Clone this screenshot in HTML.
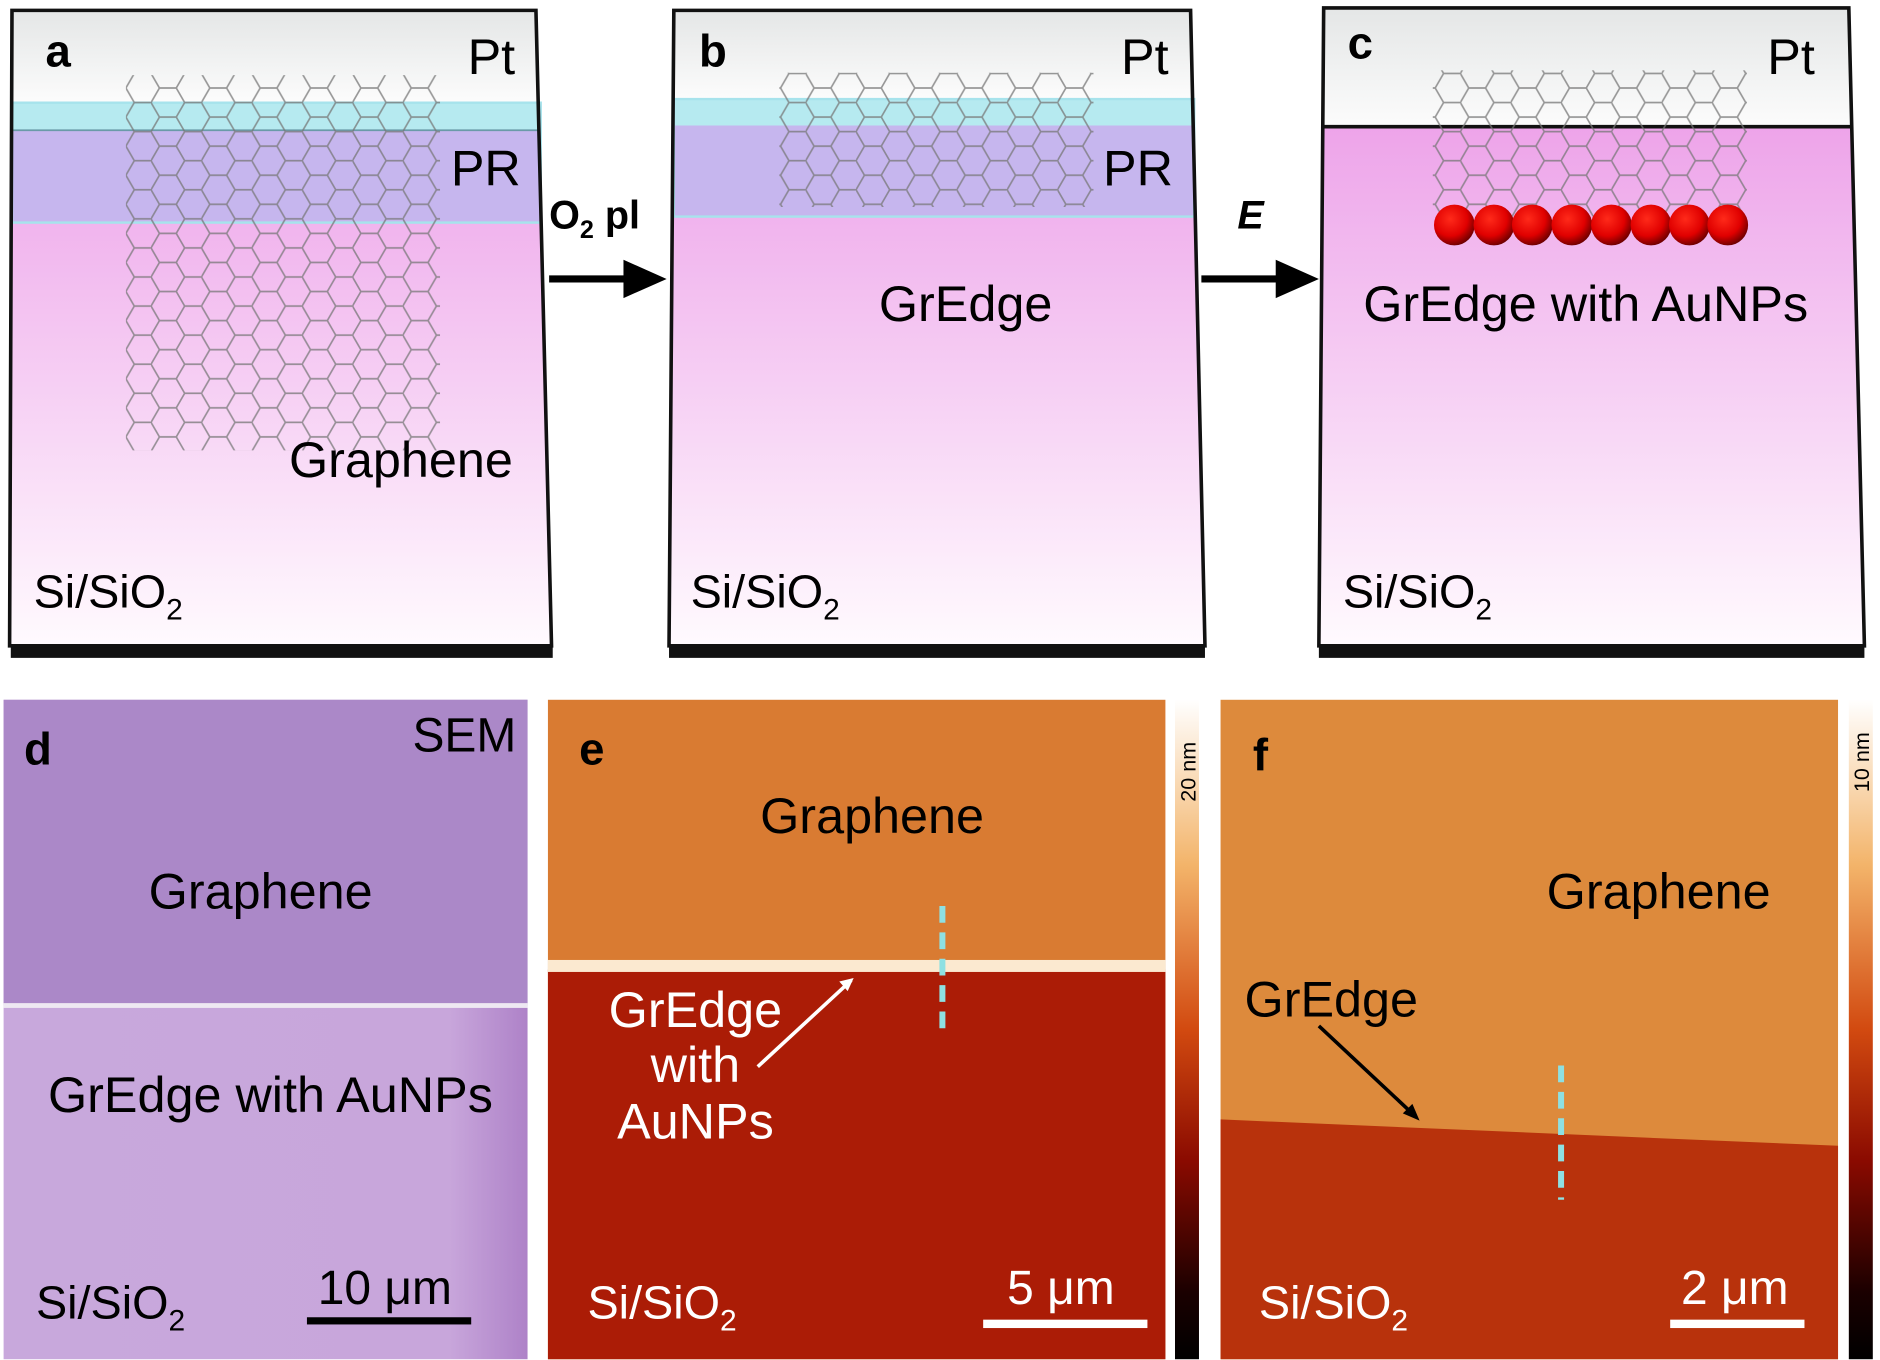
<!DOCTYPE html>
<html><head><meta charset="utf-8"><style>
html,body{margin:0;padding:0;background:#fff;}
svg{display:block;}
text{font-family:"Liberation Sans",sans-serif;}
</style></head><body>
<svg width="1880" height="1360" viewBox="0 0 1568 1133" xmlns="http://www.w3.org/2000/svg">
<defs>
<pattern id="hex" width="42" height="24.25" patternUnits="userSpaceOnUse">
<path d="M0,12.12 L7,0 L21,0 L28,12.12 L21,24.25 L7,24.25 Z M28,12.12 L42,12.12" fill="none" stroke="#777" stroke-width="1.4" opacity="0.75"/>
</pattern>
<linearGradient id="pink" x1="0" y1="0" x2="0" y2="1">
<stop offset="0" stop-color="#e98fe4"/><stop offset="0.35" stop-color="#f1b6ee"/><stop offset="1" stop-color="#fffafe"/>
</linearGradient>
<linearGradient id="ptg" x1="0" y1="0" x2="0" y2="1">
<stop offset="0" stop-color="#e4e6e6"/><stop offset="1" stop-color="#fcfcfc"/>
</linearGradient>
<linearGradient id="cb" x1="0" y1="0" x2="0" y2="1">
<stop offset="0" stop-color="#ffffff"/><stop offset="0.25" stop-color="#f3b46a"/><stop offset="0.5" stop-color="#d24a10"/><stop offset="0.7" stop-color="#8a0a00"/><stop offset="0.9" stop-color="#1a0000"/><stop offset="1" stop-color="#000"/>
</linearGradient>
<radialGradient id="ball" cx="0.4" cy="0.35" r="0.7">
<stop offset="0" stop-color="#ff2a1a"/><stop offset="0.6" stop-color="#e00000"/><stop offset="1" stop-color="#600000"/>
</radialGradient>
<linearGradient id="dgrad" x1="0" y1="0" x2="1" y2="0">
<stop offset="0" stop-color="#c8a8dc"/><stop offset="0.85" stop-color="#c8a6db"/><stop offset="1" stop-color="#ae82c8"/>
</linearGradient>
</defs>

<!-- Panel a -->
<polygon points="9,548 461,548 461,538 9,538" fill="#111"/>
<polygon points="10,8 447,8 460,538 8,538" fill="url(#pink)"/>
<polygon points="10,8 447,8 449,85 10,85" fill="url(#ptg)"/>
<polygon points="10,108 449,108 451,185 9,185" fill="#c6b6ee"/>
<polygon points="10,85 449,85 449,108 10,108" fill="#b6eaf0"/>
<line x1="10" y1="108" x2="449" y2="108" stroke="#6a9aa8" stroke-width="1.5"/>
<rect x="10" y="85" width="441" height="100" fill="none" stroke="#a7e3ec" stroke-width="2"/>
<rect x="105" y="62" width="262" height="313" fill="url(#hex)"/>
<polygon points="10,8 447,8 460,538 8,538" fill="none" stroke="#111" stroke-width="3"/>
<text x="38" y="55" font-size="38" font-weight="bold">a</text>
<text x="390" y="61" font-size="42">Pt</text>
<text x="376" y="154" font-size="42">PR</text>
<text x="241" y="397" font-size="42">Graphene</text>
<text x="28" y="506" font-size="39">Si/SiO<tspan font-size="25" dy="10">2</tspan></text>

<!-- arrow 1 -->
<text x="458" y="190" font-size="33" font-weight="bold">O<tspan font-size="21" dy="8">2</tspan><tspan dy="-8"> pl</tspan></text>
<line x1="458" y1="232" x2="525" y2="232" stroke="#000" stroke-width="6"/>
<polygon points="520,216 556,232 520,248" fill="#000"/>

<!-- Panel b -->
<polygon points="558,548 1005,548 1005,538 558,538" fill="#111"/>
<polygon points="562,8 993,8 1005,538 558,538" fill="url(#pink)"/>
<polygon points="562,8 993,8 995,82 562,82" fill="url(#ptg)"/>
<polygon points="562,104 995,104 996,180 561,180" fill="#c6b6ee"/>
<polygon points="562,82 995,82 995,104 562,104" fill="#b6eaf0"/>
<rect x="562" y="82" width="434" height="98" fill="none" stroke="#a7e3ec" stroke-width="2"/>
<rect x="650" y="60" width="262" height="112" fill="url(#hex)"/>
<polygon points="562,8 993,8 1005,538 558,538" fill="none" stroke="#111" stroke-width="3"/>
<text x="583" y="55" font-size="38" font-weight="bold">b</text>
<text x="935" y="61" font-size="42">Pt</text>
<text x="920" y="154" font-size="42">PR</text>
<text x="733" y="267" font-size="42">GrEdge</text>
<text x="576" y="506" font-size="39">Si/SiO<tspan font-size="25" dy="10">2</tspan></text>

<!-- arrow 2 -->
<text x="1032" y="190" font-size="33" font-weight="bold" font-style="italic">E</text>
<line x1="1002" y1="232" x2="1068" y2="232" stroke="#000" stroke-width="6"/>
<polygon points="1064,216 1100,232 1064,248" fill="#000"/>

<!-- Panel c -->
<polygon points="1100,548 1555,548 1555,538 1100,538" fill="#111"/>
<polygon points="1104,6 1542,6 1555,538 1100,538" fill="url(#pink)"/>
<polygon points="1104,6 1542,6 1545,105 1103,105" fill="url(#ptg)"/>
<line x1="1103" y1="105" x2="1545" y2="105" stroke="#111" stroke-width="3"/>
<rect x="1195" y="58" width="262" height="122" fill="url(#hex)"/>
<g fill="url(#ball)">
<circle cx="1213" cy="187" r="17"/><circle cx="1246" cy="187" r="17"/><circle cx="1278" cy="187" r="17"/><circle cx="1311" cy="187" r="17"/><circle cx="1344" cy="187" r="17"/><circle cx="1377" cy="187" r="17"/><circle cx="1409" cy="187" r="17"/><circle cx="1441" cy="187" r="17"/>
</g>
<polygon points="1104,6 1542,6 1555,538 1100,538" fill="none" stroke="#111" stroke-width="3"/>
<text x="1124" y="48" font-size="38" font-weight="bold">c</text>
<text x="1474" y="61" font-size="42">Pt</text>
<text x="1137" y="267" font-size="42">GrEdge with AuNPs</text>
<text x="1120" y="506" font-size="39">Si/SiO<tspan font-size="25" dy="10">2</tspan></text>

<!-- Panel d -->
<rect x="3" y="583" width="437" height="550" fill="url(#dgrad)"/>
<rect x="3" y="583" width="437" height="255" fill="#ab88c8"/>
<rect x="3" y="836" width="437" height="4" fill="#eee8f2"/>
<text x="20" y="637" font-size="38" font-weight="bold">d</text>
<text x="344" y="626" font-size="40">SEM</text>
<text x="124" y="757" font-size="42">Graphene</text>
<text x="40" y="927" font-size="42">GrEdge with AuNPs</text>
<text x="30" y="1099" font-size="39">Si/SiO<tspan font-size="25" dy="10">2</tspan></text>
<text x="265" y="1087" font-size="40">10 μm</text>
<rect x="256" y="1098" width="137" height="6" fill="#000"/>

<!-- Panel e -->
<rect x="457" y="583" width="515" height="550" fill="#d97b32"/>
<rect x="457" y="808" width="515" height="325" fill="#ab1c06"/>
<rect x="457" y="800" width="515" height="10" fill="#fbe9d0"/>
<line x1="786" y1="755" x2="786" y2="865" stroke="#8ee0e2" stroke-width="5" stroke-dasharray="14,8"/>
<line x1="632" y1="889" x2="710" y2="817" stroke="#fff" stroke-width="3"/>
<polygon points="712,815 700,818 707,826" fill="#fff"/>
<rect x="980" y="583" width="20" height="550" fill="url(#cb)"/>
<text x="483" y="637" font-size="38" font-weight="bold">e</text>
<text x="634" y="694" font-size="42">Graphene</text>
<text x="580" y="856" font-size="42" fill="#fff" text-anchor="middle">GrEdge</text>
<text x="580" y="902" font-size="42" fill="#fff" text-anchor="middle">with</text>
<text x="580" y="949" font-size="42" fill="#fff" text-anchor="middle">AuNPs</text>
<text x="490" y="1099" font-size="39" fill="#fff">Si/SiO<tspan font-size="25" dy="10">2</tspan></text>
<text x="840" y="1087" font-size="40" fill="#fff">5 μm</text>
<rect x="820" y="1100" width="137" height="7" fill="#fff"/>
<text x="0" y="0" font-size="18" transform="translate(997,668) rotate(-90)">20 nm</text>

<!-- Panel f -->
<rect x="1018" y="583" width="515" height="550" fill="#dd8a3c"/>
<polygon points="1018,933 1533,955 1533,1133 1018,1133" fill="#b8320c"/>
<line x1="1302" y1="888" x2="1302" y2="1000" stroke="#8ee0e2" stroke-width="5" stroke-dasharray="14,8"/>
<line x1="1100" y1="855" x2="1180" y2="930" stroke="#000" stroke-width="3"/>
<polygon points="1184,934 1170,928 1178,920" fill="#000"/>
<rect x="1542" y="583" width="20" height="550" fill="url(#cb)"/>
<text x="1045" y="642" font-size="38" font-weight="bold">f</text>
<text x="1290" y="757" font-size="42">Graphene</text>
<text x="1038" y="847" font-size="42">GrEdge</text>
<text x="1050" y="1099" font-size="39" fill="#fff">Si/SiO<tspan font-size="25" dy="10">2</tspan></text>
<text x="1402" y="1087" font-size="40" fill="#fff">2 μm</text>
<rect x="1393" y="1100" width="112" height="7" fill="#fff"/>
<text x="0" y="0" font-size="18" transform="translate(1559,660) rotate(-90)">10 nm</text>
</svg>
</body></html>
